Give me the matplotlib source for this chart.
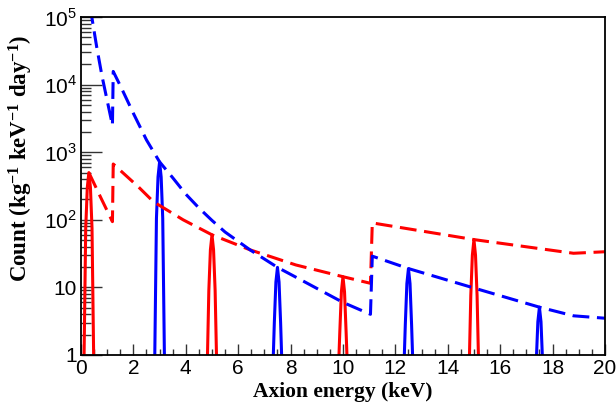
import matplotlib
matplotlib.use("Agg")
import matplotlib.pyplot as plt
from matplotlib.ticker import FixedLocator, MultipleLocator, LogLocator, NullFormatter

plt.rcParams['font.family'] = 'Liberation Sans'
plt.rcParams['mathtext.fontset'] = 'custom'
plt.rcParams['mathtext.rm'] = 'Liberation Sans'
plt.rcParams['mathtext.bf'] = 'Liberation Serif:bold'

# dashed continuum curves (keV, counts)
blue_x = [0.35, 0.6, 0.8, 1.0, 1.2, 1.23, 1.55, 2.0, 2.5, 3.0, 3.5, 4.0, 4.5, 5.0, 5.5, 6.45, 7.5, 8.5, 10.0,
          11.05, 11.12, 12.5, 15.0, 17.5, 18.8, 20.0]
blue_y = [1.4e5, 3.6e4, 1.35e4, 5.8e3, 2.5e3, 1.57e4, 8.8e3, 3.76e3, 1.52e3, 720, 420, 240, 150, 98, 66, 36,
          19.8, 12.3, 6.0, 4.0, 29, 19, 9.8, 5.1, 3.8, 3.5]

red_x = [0.3, 0.75, 1.2, 1.23, 2.2, 2.76, 3.9, 5.0, 6.45, 8.2, 10.0, 11.05, 11.12, 15.0, 18.8, 20.0]
red_y = [500, 215, 94, 670, 305, 186, 100, 60, 36, 21.5, 14.4, 11.5, 90, 51, 32, 33.7]

# line peaks
peak_dx = [-0.3, -0.2, -0.12, -0.06, 0.0, 0.06, 0.12, 0.2, 0.3]
red_peak_e = [0.3, 5.0, 10.0, 15.0]
red_peak_y = [
    [0.01, 0.3, 75, 300, 500, 300, 75, 0.3, 0.01],
    [0.01, 0.3, 9, 36, 60, 36, 9, 0.3, 0.01],
    [0.01, 0.3, 2.2, 8.6, 14.4, 8.6, 2.2, 0.3, 0.01],
    [0.01, 0.3, 7.6, 30, 51, 30, 7.6, 0.3, 0.01],
]
blue_peak_e = [3.0, 7.5, 12.5, 17.5]
blue_peak_y = [
    [0.01, 0.3, 105, 430, 720, 430, 105, 0.3, 0.01],
    [0.01, 0.3, 3.0, 12, 19.8, 12, 3.0, 0.3, 0.01],
    [0.01, 0.3, 2.8, 11.4, 19, 11.4, 2.8, 0.3, 0.01],
    [0.01, 0.3, 0.8, 3.1, 5.1, 3.1, 0.8, 0.3, 0.01],
]

fig = plt.figure(figsize=(6.16, 4.07), dpi=100)
ax = fig.add_axes([0.1315, 0.1278, 0.8505, 0.8302])

dash = (5.5, 2.5)
for e, ys in zip(red_peak_e, red_peak_y):
    ax.plot([e + d for d in peak_dx], ys, color='red', lw=2.2)
for e, ys in zip(blue_peak_e, blue_peak_y):
    ax.plot([e + d for d in peak_dx], ys, color='blue', lw=2.2)
ax.plot(red_x, red_y, color='red', lw=2.2, dashes=dash)
ax.plot(blue_x, blue_y, color='blue', lw=2.2, dashes=dash)

ax.set_yscale('log')
ax.set_xlim(0, 20)
ax.set_ylim(1, 1e5)

ax.xaxis.set_major_locator(MultipleLocator(2))
ax.xaxis.set_minor_locator(MultipleLocator(0.5))
ax.yaxis.set_major_locator(FixedLocator([1, 10, 100, 1e3, 1e4, 1e5]))
ax.set_yticklabels(['1', '10', r'$10^{2}$', r'$10^{3}$', r'$10^{4}$', r'$10^{5}$'])
ax.yaxis.set_minor_locator(LogLocator(base=10, subs=range(2, 10), numticks=20))
ax.yaxis.set_minor_formatter(NullFormatter())

ax.tick_params(which='both', direction='in', top=False, right=False, labelsize=15, width=1, color='#333333')
ax.tick_params(axis='x', which='major', length=8, pad=3)
ax.tick_params(axis='x', which='minor', length=4.5)
ax.tick_params(axis='y', which='major', length=15, pad=3)
ax.tick_params(axis='y', which='minor', length=7.5)
for s in ax.spines.values():
    s.set_linewidth(1.3)

ax.set_xlabel('Axion energy (keV)', family='Liberation Serif', fontweight='bold', fontsize=15.5, labelpad=3)
ax.set_ylabel(r'Count (kg$\mathbf{^{-1}}$ keV$\mathbf{^{-1}}$ day$\mathbf{^{-1}}$)', family='Liberation Serif',
              fontweight='bold', fontsize=16.5)
ax.yaxis.set_label_coords(-0.088, 0.583)

fig.savefig('out.png', dpi=100)
